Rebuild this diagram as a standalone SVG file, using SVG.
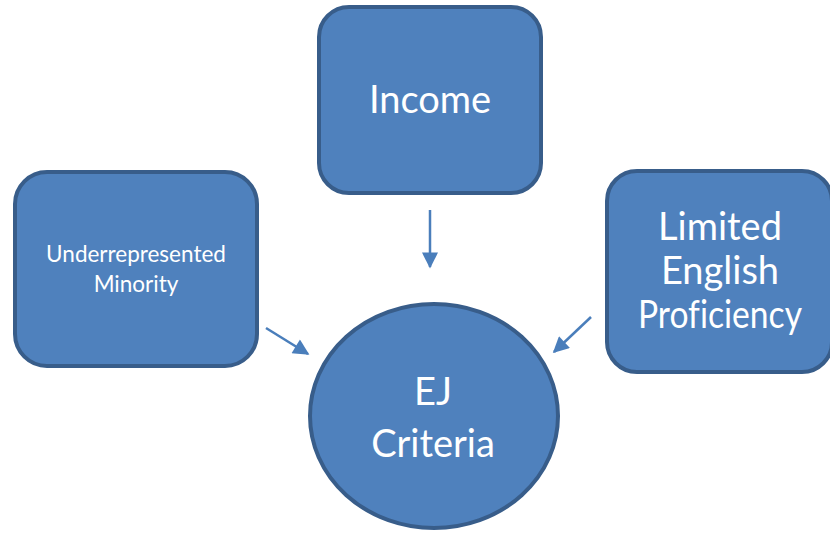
<svg xmlns="http://www.w3.org/2000/svg" width="830" height="533" viewBox="0 0 830 533">
<defs>
<style>
.node{fill:#4F81BD;stroke:#385D8A;stroke-width:4}
.t{font-family:Lato,"Open Sans","Liberation Sans",sans-serif;fill:#FFFFFF;text-anchor:middle;font-variant-ligatures:none}
.big{font-size:38px}
.small{font-size:22.5px}
.edge{stroke:#4A7EBB;stroke-width:2.5;fill:none;marker-end:url(#ah)}
</style>
<marker id="ah" viewBox="0 0 10 10" refX="9" refY="5" markerWidth="17" markerHeight="16" markerUnits="userSpaceOnUse" orient="auto">
<path d="M0,0 L10,5 L0,10 z" fill="#4A7EBB"/>
</marker>
</defs>
<g id="connectors">
<line class="edge" x1="430" y1="210" x2="430" y2="267"/>
<line class="edge" x1="266" y1="328" x2="308" y2="354"/>
<line class="edge" x1="591" y1="317" x2="554" y2="352"/>
</g>
<g id="income">
<rect class="node" x="319" y="7" width="222" height="186" rx="30"/>
<text class="t big" x="430" y="113">Income</text>
</g>
<g id="minority">
<rect class="node" x="15" y="172" width="242" height="194" rx="32"/>
<text class="t small" x="136" y="262">Underrepresented</text>
<text class="t small" x="136" y="292">Minority</text>
</g>
<g id="english">
<rect class="node" x="607" y="171" width="225" height="201" rx="30"/>
<text class="t big" x="720" y="240">Limited</text>
<text class="t big" x="720" y="284">English</text>
<text class="t big" x="720" y="328" textLength="164" lengthAdjust="spacingAndGlyphs">Proficiency</text>
</g>
<g id="ej">
<ellipse class="node" cx="434" cy="416" rx="124" ry="112"/>
<text class="t big" x="433" y="405">EJ</text>
<text class="t big" x="433" y="457">Criteria</text>
</g>
</svg>
